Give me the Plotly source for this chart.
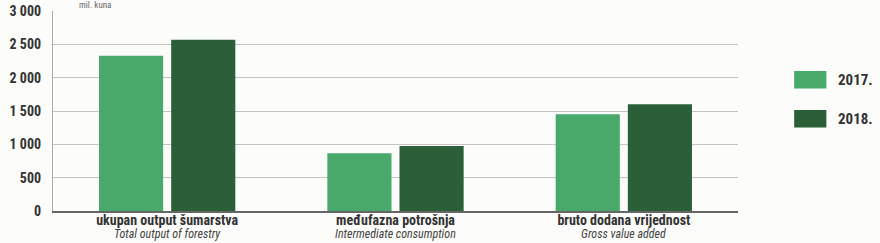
import plotly.graph_objects as go

categories = ["ukupan output šumarstva", "međufazna potrošnja", "bruto dodana vrijednost"]
categories_en = ["Total output of forestry", "Intermediate consumption", "Gross value added"]
series_names = ["2017.", "2018."]
values_2017 = [2330, 865, 1450]
values_2018 = [2570, 975, 1600]
y_ticks = [0, 500, 1000, 1500, 2000, 2500, 3000]
y_tick_labels = ["0", "500", "1 000", "1 500", "2 000", "2 500", "3 000"]
unit_label = "mil. kuna"

colors = ["#48a96b", "#2a5f38"]
FONT = "Liberation Sans Narrow, Arial Narrow, Roboto Condensed, Liberation Sans, sans-serif"

fig = go.Figure()
for name, vals, col in zip(series_names, [values_2017, values_2018], colors):
    fig.add_trace(go.Bar(x=categories, y=vals, name=name, marker_color=col,
                         marker_line_width=0, showlegend=False))

# English subtitles under the category labels
for c, e in zip(categories, categories_en):
    fig.add_annotation(xref="x", yref="paper", x=c, y=0, yshift=-32, text=f"<i>{e}</i>",
                       showarrow=False, xanchor="center", yanchor="bottom",
                       font=dict(family=FONT, size=12, color="#444444"))

# custom legend
for i, (name, col) in enumerate(zip(series_names, colors)):
    y0 = 0.70 - i * 0.195
    fig.add_shape(type="rect", xref="paper", yref="paper",
                  x0=1.082, x1=1.129, y0=y0 - 0.088, y1=y0, fillcolor=col, line_width=0)
    fig.add_annotation(xref="paper", yref="paper", x=1.143, y=y0 - 0.044,
                       text=f"<b>{name}</b>",
                       showarrow=False, xanchor="left", yanchor="middle",
                       font=dict(family=FONT, size=15, color="#333333"))

fig.add_annotation(xref="paper", yref="paper", x=0.035, y=1.0, yshift=-1, text=unit_label,
                   showarrow=False, xanchor="left", yanchor="bottom",
                   font=dict(family=FONT, size=9, color="#666666"))

fig.update_layout(
    width=880, height=243,
    margin=dict(l=53, r=142, t=11, b=32),
    paper_bgcolor="#fcfcfa", plot_bgcolor="#fcfcfa",
    barmode="group", bargap=0.368, bargroupgap=0.111,
    font=dict(family=FONT, size=14, color="#333333"),
)
fig.update_xaxes(tickvals=categories, ticktext=[f"<b>{c}</b>" for c in categories],
                 showgrid=False, automargin=False,
                 showline=True, linecolor="#666666", linewidth=1.5,
                 tickfont=dict(family=FONT, size=14, color="#333333"), ticks="",
                 ticklabelstandoff=-5)
fig.update_yaxes(range=[0, 3000], tickvals=y_ticks,
                 ticktext=[f"<b>{t}</b>" for t in y_tick_labels], automargin=False,
                 showgrid=True, gridcolor="#c4c4c4", gridwidth=1.3,
                 zeroline=False, showline=True, linecolor="#aaaaaa", linewidth=1.3,
                 tickfont=dict(family=FONT, size=14, color="#333333"), ticks="",
                 ticklabelstandoff=8)

fig.write_html("out.html")
